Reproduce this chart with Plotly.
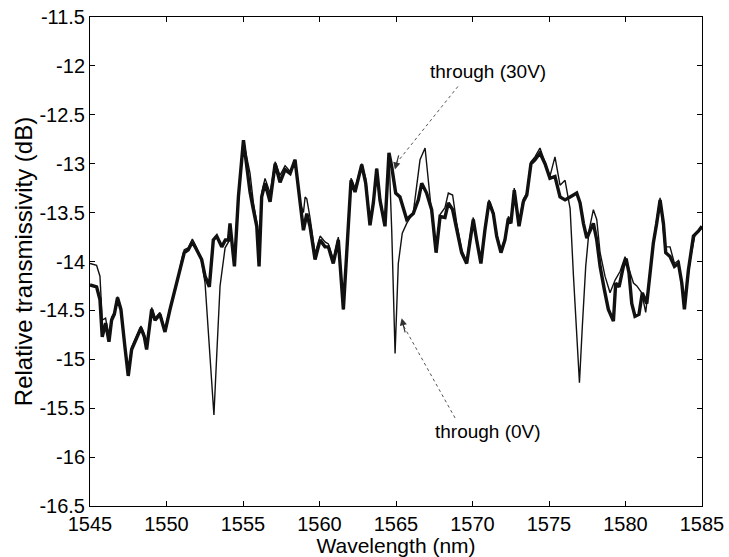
import plotly.graph_objects as go

# Through-port spectrum at 30 V bias (heavy trace)
wl_30v = [
    1545.0, 1545.43, 1545.65, 1545.8, 1546.02, 1546.24, 1546.41, 1546.59, 1546.8, 1547.02,
    1547.28, 1547.5, 1547.72, 1548.05, 1548.33, 1548.55, 1548.7, 1549.03, 1549.25, 1549.57,
    1549.9, 1550.23, 1550.55, 1550.77, 1550.99, 1551.16, 1551.42, 1551.69, 1551.97, 1552.3,
    1552.52, 1552.8, 1553.06, 1553.28, 1553.61, 1553.85, 1554.05, 1554.15, 1554.44, 1554.7,
    1555.03, 1555.24, 1555.46, 1555.68, 1555.9, 1556.05, 1556.22, 1556.44, 1556.77, 1557.1,
    1557.42, 1557.75, 1558.08, 1558.4, 1558.73, 1558.95, 1559.17, 1559.38, 1559.71, 1560.04,
    1560.36, 1560.58, 1560.9, 1561.23, 1561.56, 1561.84, 1562.06, 1562.32, 1562.76, 1563.02,
    1563.3, 1563.52, 1563.74, 1563.95, 1564.28, 1564.54, 1564.72, 1564.98, 1565.26, 1565.7,
    1566.13, 1566.46, 1566.68, 1567.0, 1567.33, 1567.62, 1567.88, 1568.2, 1568.42, 1568.7,
    1568.96, 1569.29, 1569.62, 1569.83, 1570.05, 1570.27, 1570.55, 1570.81, 1571.08, 1571.36,
    1571.58, 1571.86, 1572.12, 1572.34, 1572.51, 1572.73, 1573.04, 1573.32, 1573.55, 1573.82,
    1574.08, 1574.41, 1574.74, 1575.06, 1575.39, 1575.72, 1576.05, 1576.38, 1576.81, 1577.03,
    1577.25, 1577.47, 1577.68, 1577.9, 1578.12, 1578.34, 1578.62, 1578.88, 1579.21, 1579.36,
    1579.58, 1579.86, 1580.04, 1580.23, 1580.41, 1580.62, 1580.88, 1581.1, 1581.39, 1581.6,
    1581.82, 1582.04, 1582.26, 1582.48, 1582.63, 1582.91, 1583.2, 1583.46, 1583.68, 1583.85,
    1584.11, 1584.44, 1584.76, 1585.0,
]
db_30v = [
    -14.24, -14.26, -14.39, -14.77, -14.63, -14.82, -14.60, -14.54, -14.37, -14.49,
    -14.87, -15.17, -14.90, -14.78, -14.68, -14.77, -14.90, -14.49, -14.60, -14.54,
    -14.72, -14.49, -14.29, -14.17, -14.02, -13.91, -13.88, -13.80, -13.88, -13.98,
    -14.15, -14.26, -13.78, -13.74, -13.85, -13.78, -13.78, -13.61, -14.05, -13.34,
    -12.76, -13.00, -13.29, -13.47, -13.64, -14.05, -13.34, -13.20, -13.39, -13.00,
    -13.19, -13.06, -13.10, -12.96, -13.44, -13.68, -13.51, -13.64, -13.98, -13.78,
    -13.85, -13.85, -14.02, -13.78, -14.49, -13.78, -13.17, -13.29, -13.01, -13.20,
    -13.63, -13.40, -13.05, -13.37, -13.64, -12.89, -13.03, -13.30, -13.34, -13.57,
    -13.51, -13.37, -13.20, -13.30, -13.47, -13.91, -13.54, -13.55, -13.40, -13.47,
    -13.68, -13.91, -14.02, -13.78, -13.57, -13.78, -14.02, -13.68, -13.39, -13.51,
    -13.74, -13.91, -13.78, -13.56, -13.61, -13.27, -13.64, -13.39, -13.32, -13.00,
    -12.96, -12.89, -13.00, -13.15, -13.13, -13.34, -13.37, -13.34, -13.30, -13.40,
    -13.61, -13.76, -13.68, -13.61, -13.78, -14.05, -14.29, -14.49, -14.61, -14.22,
    -14.26, -14.05, -13.97, -14.12, -14.43, -14.56, -14.54, -14.32, -14.43, -14.15,
    -13.81, -13.61, -13.37, -13.61, -13.91, -13.95, -14.05, -14.02, -14.22, -14.49,
    -14.09, -13.74, -13.69, -13.64,
]

# Through-port spectrum at 0 V bias (light trace)
wl_0v = [
    1545.0, 1545.43, 1545.65, 1545.8, 1546.02, 1546.24, 1546.41, 1546.59, 1546.8, 1547.02,
    1547.28, 1547.5, 1547.72, 1548.05, 1548.33, 1548.55, 1548.7, 1549.03, 1549.25, 1549.57,
    1549.9, 1550.23, 1550.55, 1550.77, 1550.99, 1551.16, 1551.42, 1551.69, 1551.97, 1552.3,
    1552.52, 1552.8, 1553.1, 1553.3, 1553.5, 1553.83, 1554.05, 1554.15, 1554.44, 1554.7,
    1555.03, 1555.24, 1555.46, 1555.68, 1555.9, 1556.05, 1556.22, 1556.44, 1556.77, 1557.1,
    1557.42, 1557.75, 1558.08, 1558.4, 1558.73, 1558.95, 1559.06, 1559.17, 1559.38, 1559.71,
    1560.04, 1560.36, 1560.58, 1560.9, 1561.23, 1561.56, 1561.84, 1562.06, 1562.32, 1562.76,
    1563.02, 1563.3, 1563.52, 1563.74, 1563.95, 1564.28, 1564.54, 1564.72, 1564.94, 1565.15,
    1565.41, 1565.7, 1566.13, 1566.57, 1566.9, 1567.16, 1567.37, 1567.62, 1567.88, 1568.2,
    1568.42, 1568.7, 1568.96, 1569.29, 1569.62, 1569.83, 1570.05, 1570.27, 1570.55, 1570.81,
    1571.08, 1571.36, 1571.58, 1571.86, 1572.12, 1572.34, 1572.51, 1572.73, 1573.04, 1573.32,
    1573.55, 1573.82, 1574.08, 1574.41, 1574.74, 1575.06, 1575.39, 1575.72, 1576.05, 1576.38,
    1576.6, 1576.81, 1576.99, 1577.18, 1577.4, 1577.62, 1577.9, 1578.12, 1578.34, 1578.66,
    1578.99, 1579.32, 1579.65, 1579.97, 1580.3, 1580.52, 1580.74, 1581.06, 1581.32, 1581.6,
    1581.93, 1582.26, 1582.58, 1582.91, 1583.2, 1583.46, 1583.85, 1584.22, 1584.55, 1585.0,
]
db_0v = [
    -14.02, -14.04, -14.15, -14.60, -14.58, -14.78, -14.57, -14.52, -14.36, -14.47,
    -14.85, -15.12, -14.88, -14.75, -14.66, -14.74, -14.88, -14.47, -14.58, -14.52,
    -14.70, -14.47, -14.27, -14.15, -13.98, -13.88, -13.86, -13.77, -13.86, -14.00,
    -14.22, -14.85, -15.57, -14.90, -14.25, -13.86, -13.80, -13.63, -14.00, -13.32,
    -12.76, -12.93, -13.10, -13.40, -13.60, -14.00, -13.30, -13.15, -13.30, -12.98,
    -13.12, -13.02, -13.08, -12.96, -13.40, -13.50, -13.34, -13.36, -13.55, -13.92,
    -13.74, -13.80, -13.82, -13.98, -13.75, -14.49, -13.76, -13.15, -13.25, -13.00,
    -13.15, -13.60, -13.38, -13.05, -13.35, -13.62, -12.89, -13.68, -14.94, -14.02,
    -13.71, -13.61, -13.50, -12.96, -12.84, -13.27, -13.57, -13.88, -13.52, -13.45,
    -13.30, -13.32, -13.60, -13.88, -14.00, -13.75, -13.55, -13.76, -14.00, -13.66,
    -13.37, -13.49, -13.72, -13.88, -13.76, -13.54, -13.58, -13.25, -13.60, -13.36,
    -13.30, -12.98, -12.93, -12.84, -12.98, -13.13, -12.93, -13.22, -13.17, -13.46,
    -14.15, -14.73, -15.24, -14.66, -14.05, -13.68, -13.47, -13.57, -13.91, -14.15,
    -14.32, -14.19, -14.10, -13.95, -14.10, -14.22, -14.25, -14.32, -14.52, -14.15,
    -13.68, -13.35, -13.85, -13.85, -14.02, -13.99, -14.46, -13.99, -13.72, -13.66,
]

x_ticks = [1545, 1550, 1555, 1560, 1565, 1570, 1575, 1580, 1585]
y_ticks = [-16.5, -16, -15.5, -15, -14.5, -14, -13.5, -13, -12.5, -12, -11.5]
y_tick_text = ["-16.5", "-16", "-15.5", "-15", "-14.5", "-14", "-13.5", "-13", "-12.5", "-12", "-11.5"]

FONT = "Liberation Sans, Arial, Helvetica, sans-serif"

fig = go.Figure()
fig.add_trace(go.Scatter(x=wl_30v, y=db_30v, mode="lines",
                         line=dict(color="#111111", width=3.4), name="through (30V)"))
fig.add_trace(go.Scatter(x=wl_0v, y=db_0v, mode="lines",
                         line=dict(color="#111111", width=1.4), name="through (0V)"))

# Dotted leader lines from the labels to the traces
leaders = [
    ((1569.05, -12.21), (1565.05, -12.99)),
    ((1568.86, -15.60), (1565.50, -14.66)),
]
for (x0, y0), (x1, y1) in leaders:
    fig.add_shape(type="line", x0=x0, y0=y0, x1=x1, y1=y1, xref="x", yref="y",
                  line=dict(color="#555555", width=1, dash="dot"))

# Arrowheads at the trace ends of the leaders
fig.add_annotation(x=1564.93, y=-13.06, ax=1565.2, ay=-12.9, axref="x", ayref="y",
                   xref="x", yref="y", text="", showarrow=True, arrowhead=2,
                   arrowsize=1.2, arrowwidth=1.2, arrowcolor="#333333")
fig.add_annotation(x=1565.37, y=-14.58, ax=1565.62, ay=-14.74, axref="x", ayref="y",
                   xref="x", yref="y", text="", showarrow=True, arrowhead=2,
                   arrowsize=1.2, arrowwidth=1.2, arrowcolor="#333333")

fig.add_annotation(x=1571.0, y=-12.06, xref="x", yref="y", text="through (30V)",
                   showarrow=False, font=dict(family=FONT, size=19, color="black"))
fig.add_annotation(x=1571.0, y=-15.74, xref="x", yref="y", text="through (0V)",
                   showarrow=False, font=dict(family=FONT, size=19, color="black"))

axis_common = dict(
    showline=True, linecolor="black", linewidth=1, mirror="ticks",
    ticks="inside", ticklen=5, tickcolor="black", showgrid=False, zeroline=False,
    tickfont=dict(family=FONT, size=20, color="black"), automargin=False,
)
fig.update_xaxes(range=[1545, 1585], tickvals=x_ticks, ticklabelstandoff=0,
                 title=dict(text="Wavelength (nm)", standoff=3,
                            font=dict(family=FONT, size=21, color="black")),
                 **axis_common)
fig.update_yaxes(range=[-16.5, -11.5], tickvals=y_ticks, ticktext=y_tick_text,
                 title=dict(text="Relative transmissivity (dB)", standoff=0,
                            font=dict(family=FONT, size=24, color="black")),
                 **axis_common)

fig.update_layout(
    width=729, height=557,
    margin=dict(l=90, r=27, t=17, b=51),
    paper_bgcolor="white", plot_bgcolor="white",
    showlegend=False,
)

fig.write_html("out.html")
